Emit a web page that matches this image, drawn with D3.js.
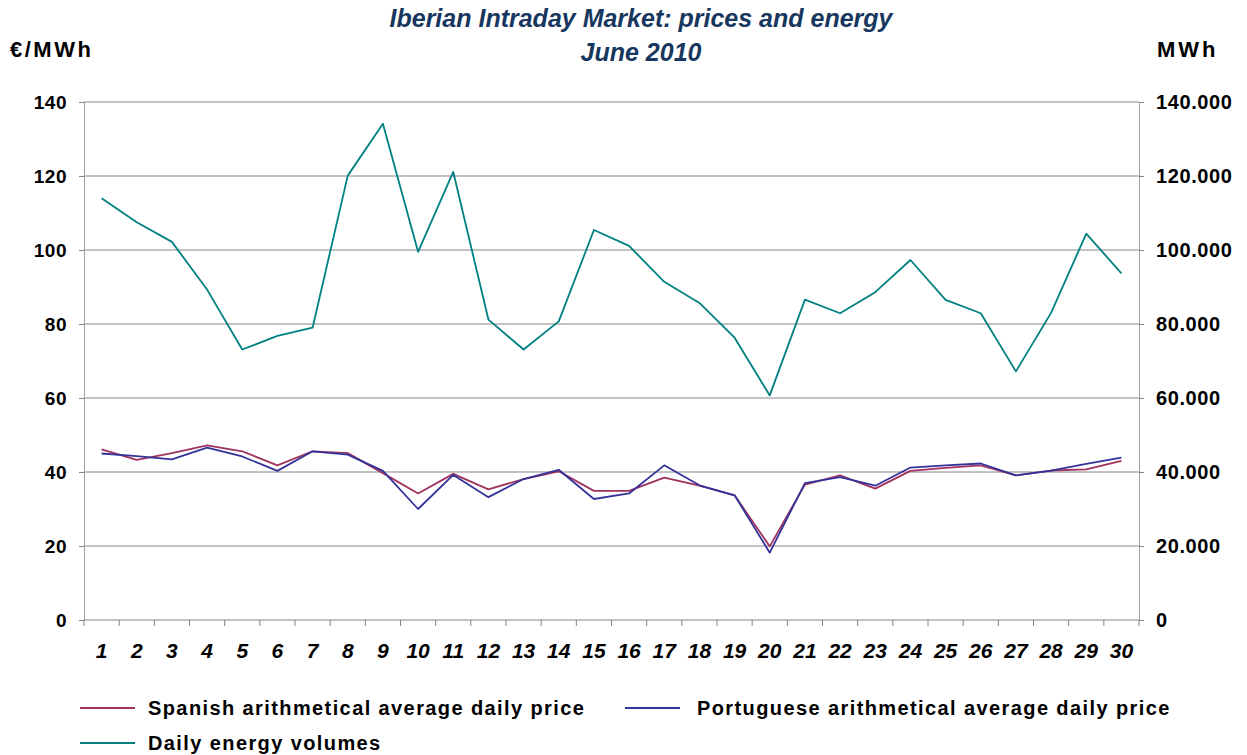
<!DOCTYPE html>
<html>
<head>
    <title>Iberian Intraday Market</title>
    <script src='https://cdn.jsdelivr.net/npm/d3@7'></script>
    <style type='text/css'>
        html, body { margin: 0; padding: 0; background: #fff; overflow: hidden; }
        svg { display: block; }
        text { font-family: 'Liberation Sans', Arial, sans-serif; font-weight: bold; }
    </style>
</head>
<body>
<script>
    // Data
    const days = d3.range(1, 31).map(String);
    const spanishPrice = [46.1, 43.3, 45.1, 47.2, 45.6, 41.8, 45.6, 45.1, 39.7, 34.2,
                          39.5, 35.3, 38.1, 40.2, 34.9, 34.9, 38.5, 36.3, 33.7, 19.9,
                          36.6, 39.1, 35.5, 40.3, 41.1, 41.8, 39.1, 40.4, 40.7, 43.0];
    const portuguesePrice = [45.0, 44.3, 43.4, 46.6, 44.2, 40.3, 45.6, 44.7, 40.3, 30.0,
                             39.2, 33.2, 38.1, 40.6, 32.7, 34.2, 41.8, 36.4, 33.7, 18.2,
                             37.0, 38.6, 36.3, 41.2, 41.8, 42.3, 39.1, 40.4, 42.2, 43.9];
    const energyVolume = [114000, 107500, 102200, 89300, 73100, 76800, 79000, 120100, 134100, 99500,
                          121100, 81200, 73100, 80700, 105400, 101100, 91400, 85700, 76300, 60700,
                          86600, 82900, 88600, 97300, 86500, 82900, 67200, 83000, 104400, 93700];
    const leftTicks = [0, 20, 40, 60, 80, 100, 120, 140];
    const rightTicks = [0, 20000, 40000, 60000, 80000, 100000, 120000, 140000];

    const series = [
        { name: 'Spanish arithmetical average daily price', values: spanishPrice, color: '#a0325f', axis: 'left' },
        { name: 'Portuguese arithmetical average daily price', values: portuguesePrice, color: '#33339a', axis: 'left' },
        { name: 'Daily energy volumes', values: energyVolume, color: '#008080', axis: 'right' }
    ];

    const width = 1247, height = 755;
    const plot = { left: 84, right: 1139, top: 102, bottom: 620 };

    const svg = d3.select('body').append('svg')
        .attr('width', width)
        .attr('height', height);

    // scales
    const x = d3.scaleBand().domain(days).range([plot.left, plot.right]);
    const yLeft = d3.scaleLinear().domain([0, 140]).range([plot.bottom, plot.top]);
    const yRight = d3.scaleLinear().domain([0, 140000]).range([plot.bottom, plot.top]);
    const fmtRight = v => v === 0 ? '0' : d3.format(',')(v).replace(/,/g, '.');

    // gridlines
    svg.append('g')
        .selectAll('line')
        .data(leftTicks.filter(t => t > 0))
        .join('line')
        .attr('x1', plot.left).attr('x2', plot.right)
        .attr('y1', d => yLeft(d)).attr('y2', d => yLeft(d))
        .attr('stroke', '#868686').attr('stroke-width', 1);

    // left axis
    const leftAxis = svg.append('g')
        .attr('transform', `translate(${plot.left},0)`)
        .call(d3.axisLeft(yLeft).tickValues(leftTicks).tickSize(5).tickPadding(12));
    leftAxis.select('.domain').attr('stroke', '#a0a0a0');
    leftAxis.selectAll('.tick line').attr('stroke', '#868686');
    leftAxis.selectAll('.tick text')
        .attr('font-size', 19).attr('fill', '#000').attr('letter-spacing', 0.5)
        .attr('font-family', "'Liberation Sans', Arial, sans-serif").attr('font-weight', 'bold');

    // right axis
    const rightAxis = svg.append('g')
        .attr('transform', `translate(${plot.right},0)`)
        .call(d3.axisRight(yRight).tickValues(rightTicks).tickFormat(fmtRight).tickSize(5).tickPadding(12));
    rightAxis.select('.domain').attr('stroke', '#a0a0a0');
    rightAxis.selectAll('.tick line').attr('stroke', '#868686');
    rightAxis.selectAll('.tick text')
        .attr('font-size', 20).attr('fill', '#000').attr('letter-spacing', 0.6)
        .attr('font-family', "'Liberation Sans', Arial, sans-serif").attr('font-weight', 'bold');

    // bottom axis: ticks between categories
    const xAxis = svg.append('g')
        .attr('transform', `translate(0,${plot.bottom})`);
    xAxis.append('line')
        .attr('x1', plot.left).attr('x2', plot.right)
        .attr('stroke', '#868686');
    xAxis.selectAll('.sep')
        .data(days.concat(['end']))
        .join('line')
        .attr('class', 'sep')
        .attr('x1', (d, i) => i < days.length ? x(d) : plot.right)
        .attr('x2', (d, i) => i < days.length ? x(d) : plot.right)
        .attr('y1', 0).attr('y2', 6)
        .attr('stroke', '#868686');
    xAxis.selectAll('.lab')
        .data(days)
        .join('text')
        .attr('class', 'lab')
        .attr('x', d => x(d) + x.bandwidth() / 2)
        .attr('y', 38)
        .attr('text-anchor', 'middle')
        .attr('font-size', 21)
        .attr('font-style', 'italic')
        .text(d => d);

    // lines
    series.forEach(s => {
        const yScale = s.axis === 'left' ? yLeft : yRight;
        const line = d3.line()
            .x((d, i) => x(days[i]) + x.bandwidth() / 2)
            .y(d => yScale(d));
        svg.append('path')
            .datum(s.values)
            .attr('fill', 'none')
            .attr('stroke', s.color)
            .attr('stroke-width', 1.8)
            .attr('stroke-linejoin', 'round')
            .attr('d', line);
    });

    // titles
    svg.append('text')
        .attr('x', 641).attr('y', 27)
        .attr('text-anchor', 'middle')
        .attr('font-size', 25).attr('font-style', 'italic')
        .attr('fill', '#17375e')
        .text('Iberian Intraday Market: prices and energy');
    svg.append('text')
        .attr('x', 641).attr('y', 61)
        .attr('text-anchor', 'middle')
        .attr('font-size', 25).attr('font-style', 'italic')
        .attr('fill', '#17375e')
        .text('June 2010');
    svg.append('text')
        .attr('x', 10).attr('y', 57)
        .attr('font-size', 22).attr('letter-spacing', 2.5)
        .text('€/MWh');
    svg.append('text')
        .attr('x', 1157).attr('y', 57)
        .attr('font-size', 22).attr('letter-spacing', 3)
        .text('MWh');

    // legend
    const legendPos = [[80, 708], [625, 708], [80, 743]];
    const legend = svg.append('g')
        .selectAll('g')
        .data(series)
        .join('g')
        .attr('transform', (d, i) => `translate(${legendPos[i][0]},${legendPos[i][1]})`);
    legend.append('line')
        .attr('x1', 0).attr('x2', 55)
        .attr('stroke', d => d.color).attr('stroke-width', 2);
    legend.append('text')
        .attr('x', (d, i) => i === 1 ? 72 : 68).attr('y', 7)
        .attr('font-size', 20).attr('letter-spacing', 1.4)
        .text(d => d.name);
</script>
</body>
</html>
